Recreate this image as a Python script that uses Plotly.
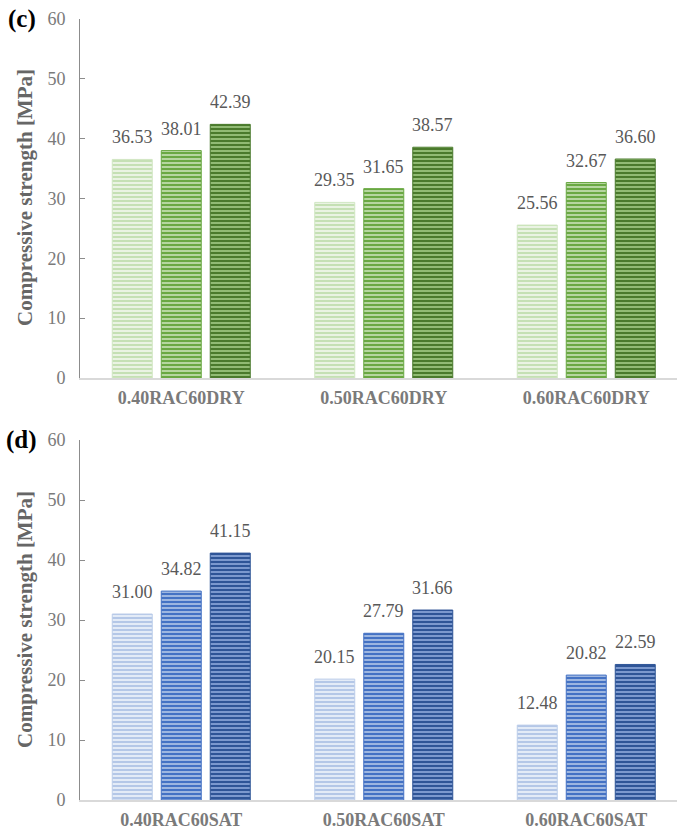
import plotly.graph_objects as go

categories_dry = ["0.40RAC60DRY", "0.50RAC60DRY", "0.60RAC60DRY"]
categories_sat = ["0.40RAC60SAT", "0.50RAC60SAT", "0.60RAC60SAT"]

dry_s1 = [36.53, 29.35, 25.56]
dry_s2 = [38.01, 31.65, 32.67]
dry_s3 = [42.39, 38.57, 36.60]

sat_s1 = [31.00, 20.15, 12.48]
sat_s2 = [34.82, 27.79, 20.82]
sat_s3 = [41.15, 31.66, 22.59]

y_ticks = [0, 10, 20, 30, 40, 50, 60]

W, H = 677, 835
SERIF = "Liberation Serif, Times New Roman, serif"

green_styles = [
    dict(fg="#c5e0b4", bg="#eef6e8", line="#d0e6c2", sol=0.55),
    dict(fg="#6aa843", bg="#c9e2b8", line="#6aa843", sol=0.6),
    dict(fg="#4a7a2c", bg="#a3cc86", line="#4a7a2c", sol=0.6),
]
blue_styles = [
    dict(fg="#b4c7e7", bg="#e9eff9", line="#bccde9", sol=0.55),
    dict(fg="#4472c4", bg="#b4c7e7", line="#4472c4", sol=0.6),
    dict(fg="#2f5597", bg="#8faadc", line="#2f5597", sol=0.6),
]

fig = go.Figure()

bar_w = 0.1975
step = 0.242
step_px = 49
annotations = []

def add_group(cats, series, styles, xa, ya):
    for k, (vals, st) in enumerate(zip(series, styles)):
        fig.add_trace(go.Bar(
            x=cats, y=vals, xaxis=xa, yaxis=ya,
            width=bar_w, offset=(k - 1) * step - bar_w / 2,
            marker=dict(
                color=st["bg"],
                line=dict(color=st["line"], width=1),
                pattern=dict(shape="-", fgcolor=st["fg"], bgcolor=st["bg"],
                             size=4, solidity=st["sol"], fillmode="replace"),
            ),
            showlegend=False, hoverinfo="skip",
        ))
        for c, v in zip(cats, vals):
            annotations.append(dict(
                x=c, y=v, xref=xa, yref=ya, text=f"{v:.2f}",
                showarrow=False, xanchor="center", yanchor="bottom",
                xshift=(k - 1) * step_px, yshift=10,
                font=dict(family=SERIF, size=18, color="#595959")))

add_group(categories_dry, [dry_s1, dry_s2, dry_s3], green_styles, "x", "y")
add_group(categories_sat, [sat_s1, sat_s2, sat_s3], blue_styles, "x2", "y2")

x0 = 80 / W
dom_top = [1 - 378 / H, 1 - 19 / H]
dom_bot = [1 - 800 / H, 1 - 440 / H]
xr = [-0.5, -0.5 + (W - 80) / 202.5]

def xaxis_cfg(cats, anchor):
    return dict(domain=[x0, 1], anchor=anchor, range=xr, showline=True,
                linecolor="#d9d9d9", linewidth=2, showgrid=False, ticks="",
                tickvals=cats, ticktext=[f"<b>{c}</b>" for c in cats],
                tickfont=dict(family=SERIF, size=18, color="#7a7a7a"),
                ticklabelstandoff=2, zeroline=False, fixedrange=True,
                automargin=False)

def yaxis_cfg(dom, anchor):
    return dict(domain=dom, anchor=anchor, range=[0, 60], tickvals=y_ticks,
                showline=True, linecolor="#8c8c8c", linewidth=1,
                ticks="inside", ticklen=5, tickcolor="#8c8c8c",
                showgrid=False, zeroline=False,
                tickfont=dict(family=SERIF, size=18, color="#7a7a7a"),
                ticklabelstandoff=10, fixedrange=True, automargin=False)

def ann(text, x, y, size, color, angle=0):
    return dict(text=text, x=x / W, y=1 - y / H, xref="paper", yref="paper",
                xanchor="center", yanchor="middle", textangle=angle,
                showarrow=False, font=dict(family=SERIF, size=size, color=color))

annotations += [
    ann("<b>(c)</b>", 22, 19, 25, "black"),
    ann("<b>(d)</b>", 22, 440, 25, "black"),
    ann("<b>Compressive strength [MPa]</b>", 25, 198, 21, "#666666", -90),
    ann("<b>Compressive strength [MPa]</b>", 25, 620, 21, "#666666", -90),
]

fig.update_layout(
    width=W, height=H, margin=dict(l=0, r=0, t=0, b=0, autoexpand=False),
    paper_bgcolor="white", plot_bgcolor="white",
    barmode="overlay",
    xaxis=xaxis_cfg(categories_dry, "y"),
    yaxis=yaxis_cfg(dom_top, "x"),
    xaxis2=xaxis_cfg(categories_sat, "y2"),
    yaxis2=yaxis_cfg(dom_bot, "x2"),
    annotations=annotations,
)

fig.write_html("out.html")
